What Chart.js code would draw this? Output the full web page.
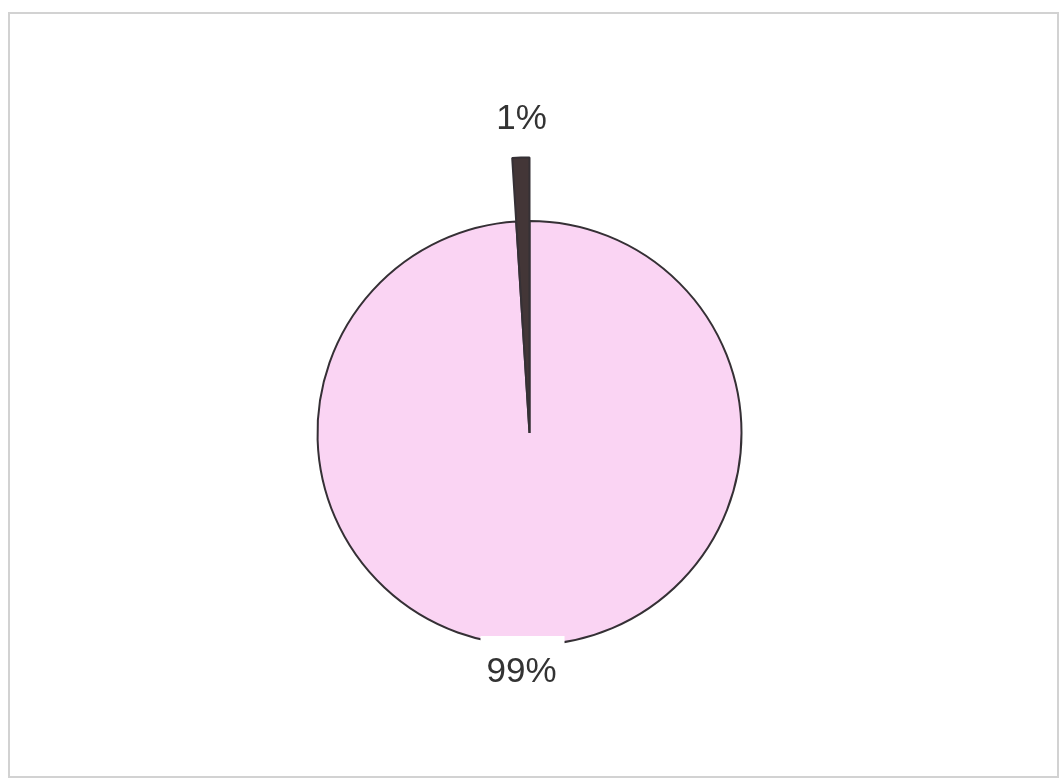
<!DOCTYPE html>
<html>
<head>
<meta charset="utf-8">
<script src="https://cdn.jsdelivr.net/npm/chart.js@4.4.0/dist/chart.umd.min.js"></script>
<style>
  html, body { margin: 0; padding: 0; background: #fff; }
  #wrap { position: relative; width: 1063px; height: 778px; }
  #frame {
    position: absolute; left: 8px; top: 12px; width: 1047px; height: 762px;
    border: 2px solid #d2d2d2; pointer-events: none;
  }
  canvas { position: absolute; left: 0; top: 0; }
</style>
</head>
<body>
<div id="wrap">
  <canvas id="pieChart" width="1063" height="778"></canvas>
  <div id="frame"></div>
</div>
<script>
let labels = ['Other', 'Share'];
let values = [99, 1];
let valueLabels = ['99%', '1%'];
let sliceColors = ['#fad4f3', '#433637'];

// pulls the small slice out past the rim of the pie
const longSlice = {
    id: 'longSlice',
    afterDatasetsUpdate(chart) {
        let meta = chart.getDatasetMeta(0);
        let arc = meta.data[1];
        arc.outerRadius = arc.outerRadius * 1.3;
    }
};

// percentage labels above / below the pie, the lower one on a white box
const pctLabels = {
    id: 'pctLabels',
    afterDatasetsDraw(chart) {
        let ctx = chart.ctx;
        let meta = chart.getDatasetMeta(0);
        ctx.save();
        ctx.font = '35px "Liberation Sans", Arial, sans-serif';
        ctx.textAlign = 'center';
        ctx.textBaseline = 'middle';
        meta.data.forEach((arc, i) => {
            let mid = (arc.startAngle + arc.endAngle) / 2;
            let up = Math.sin(mid) < 0;
            let x = arc.x - 8;
            let y = up ? arc.y - arc.outerRadius - 38 : arc.y + arc.outerRadius + 27;
            let text = valueLabels[i];
            if (!up) {
                let w = ctx.measureText(text).width;
                ctx.fillStyle = '#ffffff';
                ctx.fillRect(x - w / 2 - 6, y - 36, w + 14, 60);
            }
            ctx.fillStyle = '#333333';
            ctx.fillText(text, x, y);
        });
        ctx.restore();
    }
};

new Chart(document.getElementById('pieChart'), {
    type: 'pie',
    data: {
        labels: labels,
        datasets: [{
            data: values,
            backgroundColor: sliceColors,
            borderColor: '#353035',
            borderWidth: 2
        }]
    },
    options: {
        responsive: false,
        animation: false,
        radius: 212,
        layout: { padding: { top: 221, bottom: 133, left: 317, right: 321 } },
        plugins: {
            legend: { display: false },
            tooltip: { enabled: false }
        }
    },
    plugins: [longSlice, pctLabels]
});
</script>
</body>
</html>
